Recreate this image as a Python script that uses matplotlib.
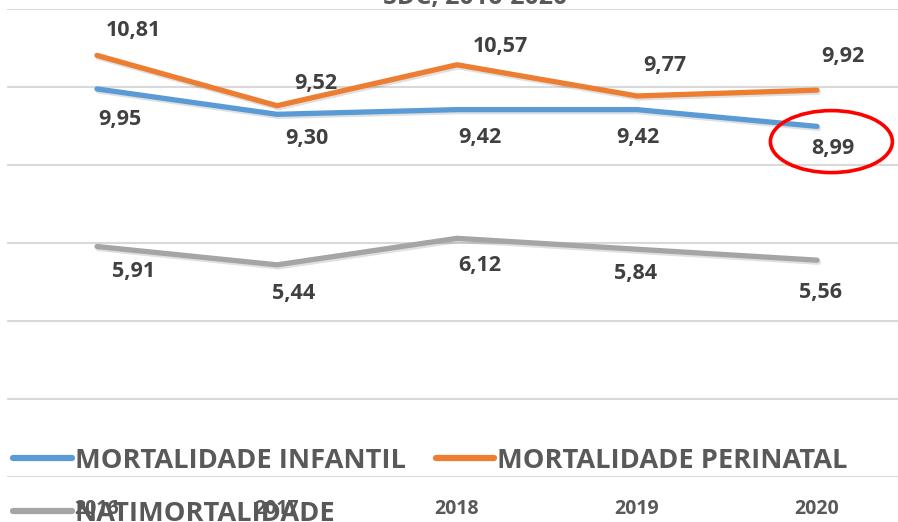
import matplotlib
matplotlib.use("Agg")
import matplotlib.pyplot as plt
from matplotlib.patches import Ellipse
import matplotlib.patheffects as pe

# ---- data ----
years = ["2016", "2017", "2018", "2019", "2020"]
infantil = [9.95, 9.30, 9.42, 9.42, 8.99]
perinatal = [10.81, 9.52, 10.57, 9.77, 9.92]
natimortalidade = [5.91, 5.44, 6.12, 5.84, 5.56]
series_names = ["MORTALIDADE INFANTIL", "MORTALIDADE PERINATAL", "NATIMORTALIDADE"]
title = "SDC, 2016-2020"

# label offsets in pixels (dx, dy) - styling only
off_inf = [(23, -31), (30, -24), (23, -28), (1, -28), (16, -22)]
off_per = [(36, 25), (39, 22), (43, 18), (28, 30), (26, 34)]
off_nat = [(37, -25), (17, -29), (23, -27), (-1, -24), (3, -32)]

FONT = ["Open Sans", "DejaVu Sans"]
plt.rcParams["font.family"] = FONT

fig = plt.figure(figsize=(8.98, 5.22), dpi=100)
W, H = 898, 522
ax = fig.add_axes([7 / W, 45 / H, 900 / W, 468 / H])

x = list(range(len(years)))
colors = {"inf": "#5B9BD5", "per": "#ED7D31", "nat": "#A5A5A5"}
shadow = [pe.SimpleLineShadow(offset=(1.0, -1.5), alpha=0.12, shadow_color="black"), pe.Normal()]

kw = dict(lw=3.8, solid_capstyle="round", solid_joinstyle="round", path_effects=shadow, zorder=3)
l1, = ax.plot(x, infantil, color=colors["inf"], **kw)
l2, = ax.plot(x, perinatal, color=colors["per"], **kw)
l3, = ax.plot(x, natimortalidade, color=colors["nat"], **kw)

def labels(vals, offs):
    for i, (v, o) in enumerate(zip(vals, offs)):
        ax.annotate(f"{v:.2f}".replace(".", ","), (i, v), xytext=o,
                    textcoords="offset pixels", ha="center", va="center",
                    fontsize=15.5, fontweight="bold", color="#404040",
                    family=FONT, zorder=5)

labels(perinatal, off_per)
labels(infantil, off_inf)
labels(natimortalidade, off_nat)

ax.set_xlim(-0.5, 4.5)
ax.set_ylim(0, 12)
ax.set_yticks([0, 2, 4, 6, 8, 10, 12])
ax.yaxis.grid(True, color="#D9D9D9", lw=1.5)
ax.set_axisbelow(True)
ax.tick_params(axis="y", left=False, labelleft=False)
ax.set_xticks(x)
ax.set_xticklabels(years, fontsize=14, fontweight="bold", color="#595959", family=FONT)
ax.tick_params(axis="x", length=0, pad=16)
for s in ax.spines.values():
    s.set_visible(False)

# red highlight ellipse around 2020 infantil label
ell = Ellipse((4.08, 8.6), width=122 / 180, height=62 / 39, fill=False,
              edgecolor="#FF0000", lw=2.6, clip_on=False, zorder=6)
ax.add_patch(ell)

# title (mostly cut off at top)
fig.text(475 / W, 1 - 4 / H, title, ha="center", va="baseline", fontsize=18,
         fontweight="bold", color="#595959", family=FONT)

# order so that rows read: INFANTIL, PERINATAL / NATIMORTALIDADE
order = [0, 2, 1]
handles = [l1, l2, l3]
leg = fig.legend([handles[i] for i in order], [series_names[i] for i in order],
                 loc="upper left", bbox_to_anchor=(13 / W, 1 - 448 / H), ncol=2,
                 frameon=False,
                 prop={"family": FONT, "size": 19.6, "weight": "bold"},
                 handlelength=2.15, handletextpad=0.12, columnspacing=1.1,
                 labelspacing=0.98, borderpad=0, borderaxespad=0)
for t in leg.get_texts():
    t.set_color("#595959")
for h in leg.legend_handles:
    h.set_linewidth(4.5)
    h.set_solid_capstyle("round")
    h.set_path_effects([])

fig.savefig("out.png", dpi=100)
